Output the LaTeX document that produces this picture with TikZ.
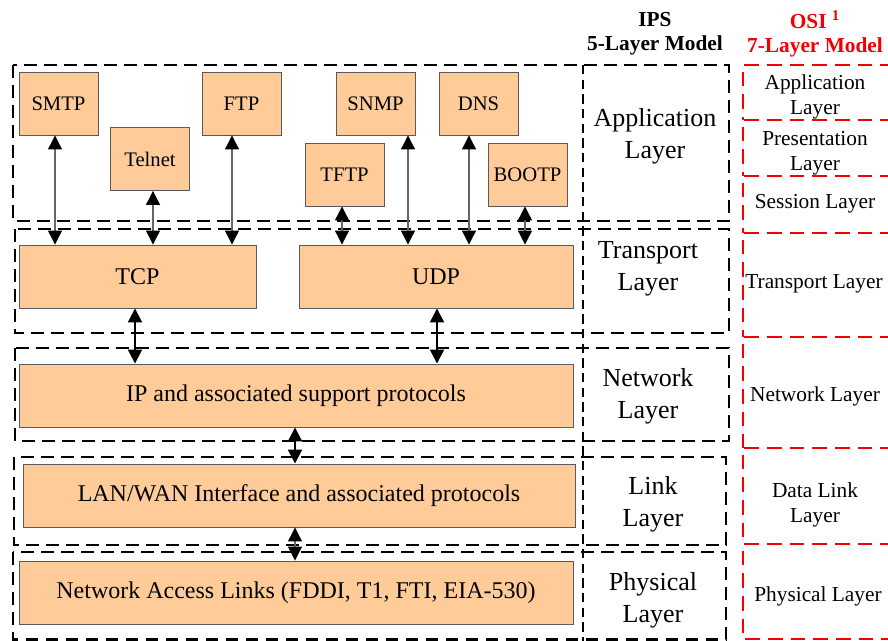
\documentclass[tikz,border=0pt]{standalone}
\usepackage{fontspec}
\setmainfont{Liberation Serif}
\usetikzlibrary{arrows.meta,calc}
\definecolor{protofill}{HTML}{FFCC99}
\definecolor{osired}{HTML}{F00000}

\begin{document}
\begin{tikzpicture}[x=0.75pt,y=-0.75pt,
    >={Triangle[width=10.5pt,length=10.5pt,color=black]},
    layerbox/.style={line width=1.9pt,dash pattern=on 9.5pt off 5.5pt},
    osibox/.style={draw=osired,line width=2.2pt,dash pattern=on 11pt off 6pt},
    divider/.style={line width=1.1pt,dash pattern=on 7pt off 4pt},
    proto/.style={draw=black!65,fill=protofill,line width=0.7pt,inner sep=0pt,
      minimum width=59.25pt,minimum height=47.25pt,font=\fontsize{15.5}{18}\selectfont},
    stack/.style={proto,font=\fontsize{18}{22}\selectfont},
    applink/.style={<->,draw=black!60,line width=0.9pt},
    netlink/.style={<->,line width=1.5pt},
    ipslabel/.style={align=center,font=\fontsize{19.5}{24}\selectfont},
    osilabel/.style={align=center,font=\fontsize{16}{19}\selectfont},
    header/.style={align=center,font=\fontsize{16}{18}\selectfont\bfseries}]
  \useasboundingbox (0,0) rectangle (888,641);

  % IPS layer frames
  \draw[layerbox] (13,65) rectangle (729,221);
  \draw[layerbox] (15,229) rectangle (729,333);
  \draw[layerbox] (15,348) rectangle (729,441);
  \draw[layerbox] (14,457) rectangle (726,545);
  \draw[layerbox] (13,552) rectangle (726,639.5);
  \draw[divider] (583,65) -- (583,641);

  % OSI layer frames
  \draw[osibox] (895,65) -- (743,65) -- (743,120);
  \draw[osibox] (895,120) -- (743,120) -- (743,176);
  \draw[osibox] (895,176) -- (743,176) -- (743,233);
  \draw[osibox] (895,233) -- (743,233) -- (743,337);
  \draw[osibox] (895,337) -- (743,337) -- (743,448);
  \draw[osibox] (895,448) -- (743,448) -- (743,544);
  \draw[osibox] (895,544) -- (743,544) -- (743,639) -- (895,639);

  % headers
  \node[header] (ips) at (655,34) {IPS\\5-Layer Model};
  \node[header,text=osired] (osi) at (815,34) {OSI \textsuperscript{1}\\7-Layer Model};

  % protocols
  \node[proto] (smtp) at (58.5,103.5) {SMTP};
  \node[proto] (telnet) at (150,159) {Telnet};
  \node[proto] (ftp) at (241.5,103.5) {FTP};
  \node[proto] (snmp) at (375.5,103.5) {SNMP};
  \node[proto] (dns) at (478.5,103.5) {DNS};
  \node[proto] (tftp) at (344.5,174.5) {TFTP};
  \node[proto] (bootp) at (527.5,174.5) {BOOTP};
  \node[stack,minimum width=177.75pt] (tcp) at (137.5,276.5) {TCP};
  \node[stack,minimum width=205.5pt] (udp) at (436,276.5) {UDP};
  \node[stack,minimum width=415.5pt] (ip) at (296,395.5) {IP and associated support protocols};
  \node[stack,minimum width=414pt] (lan) at (299,495.5) {LAN/WAN Interface and associated protocols};
  \node[stack,minimum width=415.5pt] (nal) at (296,592.5) {Network Access Links (FDDI, T1, FTI, EIA-530)};

  % IPS layer names
  \node[ipslabel] (appl) at (655,136) {Application\\Layer};
  \node[ipslabel] (tranl) at (648,269) {Transport\\Layer};
  \node[ipslabel] (netl) at (648,396) {Network\\Layer};
  \node[ipslabel] (linkl) at (653,504) {Link\\Layer};
  \node[ipslabel] (phyl) at (653,600) {Physical\\Layer};

  % OSI layer names
  \node[osilabel] (osi7) at (815,97) {Application\\Layer};
  \node[osilabel] (osi6) at (815,153) {Presentation\\Layer};
  \node[osilabel] (osi5) at (815,204) {Session Layer};
  \node[osilabel] (osi4) at (814,284) {Transport Layer};
  \node[osilabel] (osi3) at (815,396) {Network Layer};
  \node[osilabel] (osi2) at (815,505) {Data Link\\Layer};
  \node[osilabel] (osi1) at (818,596) {Physical Layer};

  % links between layers
  \coordinate (a1) at ($(smtp.south)+(-3.5,0)$);
  \coordinate (a2) at ($(telnet.south)+(3,0)$);
  \coordinate (a3) at ($(ftp.south)+(-9.5,0)$);
  \coordinate (a4) at ($(tftp.south)+(-2.5,0)$);
  \coordinate (a5) at ($(snmp.south)+(32.5,0)$);
  \coordinate (a6) at ($(dns.south)+(-9.5,0)$);
  \coordinate (a7) at ($(bootp.south)+(-2.5,0)$);
  \draw[applink] (a1) -- (a1 |- tcp.north);
  \draw[applink] (a2) -- (a2 |- tcp.north);
  \draw[applink] (a3) -- (a3 |- tcp.north);
  \draw[applink] (a4) -- (a4 |- udp.north);
  \draw[applink] (a5) -- (a5 |- udp.north);
  \draw[applink] (a6) -- (a6 |- udp.north);
  \draw[applink] (a7) -- (a7 |- udp.north);

  \coordinate (b1) at ($(tcp.south)+(-2.5,0)$);
  \coordinate (b2) at ($(udp.south)+(1,0)$);
  \coordinate (b3) at ($(ip.south)+(-1,0)$);
  \coordinate (b4) at ($(lan.south)+(-4,0)$);
  \draw[netlink] (b1) -- (b1 |- ip.north);
  \draw[netlink] (b2) -- (b2 |- ip.north);
  \draw[netlink] (b3) -- (b3 |- lan.north);
  \draw[applink] (b4) -- (b4 |- nal.north);
\end{tikzpicture}
\end{document}
